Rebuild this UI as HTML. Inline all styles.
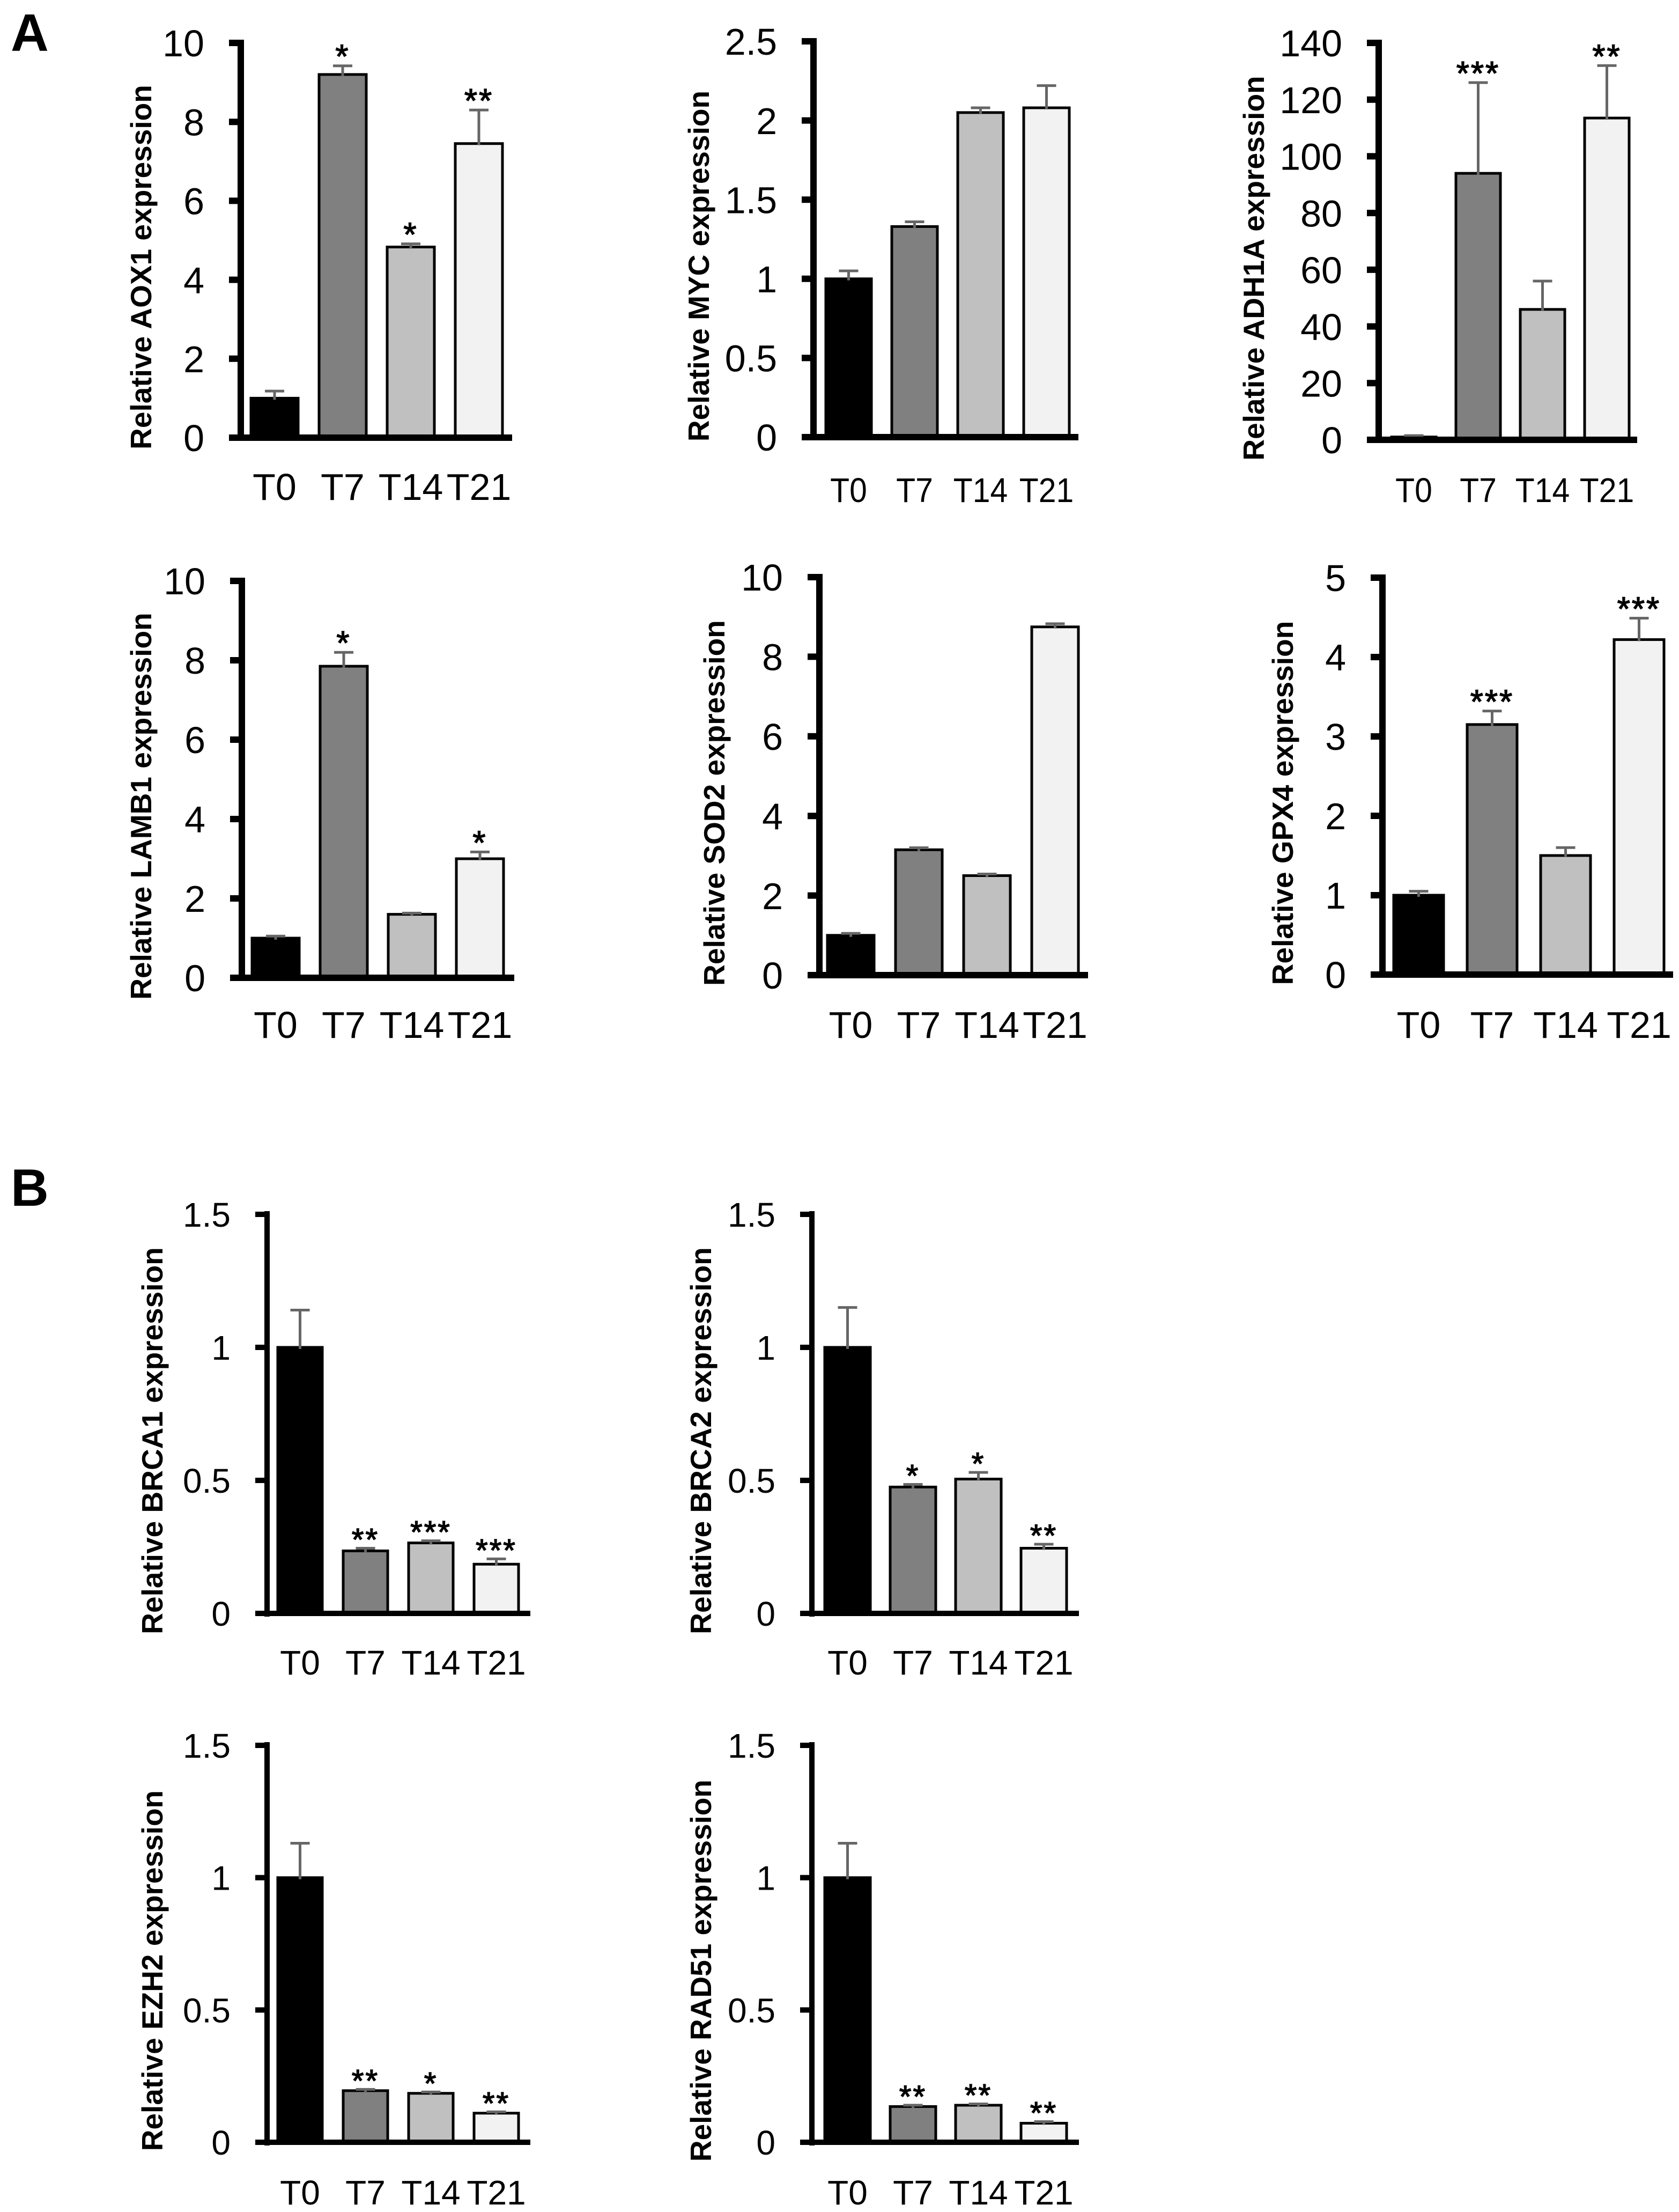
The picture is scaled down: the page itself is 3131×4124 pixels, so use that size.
<!DOCTYPE html>
<html><head><meta charset="utf-8"><style>
html,body{margin:0;padding:0;background:#fff;}
svg{display:block;}
</style></head>
<body>
<svg id="fig" width="3131" height="4124" viewBox="0 0 3131 4124" xmlns="http://www.w3.org/2000/svg">
<rect width="3131" height="4124" fill="#fff"/>
<text x="20" y="95" font-family="Liberation Sans, Arial, sans-serif" font-weight="bold" font-size="98">A</text>
<text x="20" y="2248" font-family="Liberation Sans, Arial, sans-serif" font-weight="bold" font-size="98">B</text>
</svg>
<script>
// ---- data ----
const categories = ["T0","T7","T14","T21"];
const barFills = ["#000000","#808080","#c0c0c0","#f2f2f2"];
const aox1Values = [1.0, 9.2, 4.83, 7.45];
const aox1Errors = [0.18, 0.22, 0.08, 0.85];
const aox1Stars = ["", "*", "*", "**"];
const mycValues = [1.0, 1.33, 2.05, 2.08];
const mycErrors = [0.05, 0.03, 0.03, 0.14];
const mycStars = ["", "", "", ""];
const adh1aValues = [1.0, 94, 46, 113.5];
const adh1aErrors = [0.5, 32, 10, 18.5];
const adh1aStars = ["", "***", "", "**"];
const lamb1Values = [1.0, 7.85, 1.6, 3.0];
const lamb1Errors = [0.05, 0.35, 0.03, 0.17];
const lamb1Stars = ["", "*", "", "*"];
const sod2Values = [1.0, 3.15, 2.5, 8.75];
const sod2Errors = [0.05, 0.05, 0.04, 0.08];
const sod2Stars = ["", "", "", ""];
const gpx4Values = [1.0, 3.15, 1.5, 4.22];
const gpx4Errors = [0.05, 0.17, 0.1, 0.27];
const gpx4Stars = ["", "***", "", "***"];
const brca1Values = [1.0, 0.235, 0.265, 0.185];
const brca1Errors = [0.14, 0.01, 0.008, 0.02];
const brca1Stars = ["", "**", "***", "***"];
const brca2Values = [1.0, 0.475, 0.505, 0.245];
const brca2Errors = [0.15, 0.01, 0.025, 0.015];
const brca2Stars = ["", "*", "*", "**"];
const ezh2Values = [1.0, 0.195, 0.185, 0.11];
const ezh2Errors = [0.13, 0.005, 0.005, 0.005];
const ezh2Stars = ["", "**", "*", "**"];
const rad51Values = [1.0, 0.135, 0.14, 0.072];
const rad51Errors = [0.13, 0.005, 0.005, 0.006];
const rad51Stars = ["", "**", "**", "**"];
const ticks10 = [0,2,4,6,8,10];
const ticks25 = [0,0.5,1,1.5,2,2.5];
const ticks140 = [0,20,40,60,80,100,120,140];
const ticks5 = [0,1,2,3,4,5];
const ticks15 = [0,0.5,1,1.5];

const NS = "http://www.w3.org/2000/svg";
const svg = document.getElementById("fig");
function mk(tag, attrs, parent){
  const e = document.createElementNS(NS, tag);
  for (const k in attrs) e.setAttribute(k, attrs[k]);
  (parent||svg).appendChild(e);
  return e;
}

function drawChart(c){
  const g = mk("g", {});
  
  
  const ymax = c.ticks[c.ticks.length-1];
  const y = v => c.base - (v/ymax)*(c.base - c.top);
  const x = i => c.first + i*c.step;
  const FN = "Liberation Sans, Arial, sans-serif";
  const sx = c.catScale || 1;
  c.values.forEach((v,i)=>{
    const r = mk("rect", {x:x(i), y:y(v), width:c.w, height:c.base - y(v), fill:barFills[i], stroke:"#000", "stroke-width":5}, g);
    
    
    const cx = x(i) + c.w/2;
    const et = y(v + c.errors[i]);
    const eb = mk("path", {d:`M${cx},${y(v)+3} V${et} M${cx-18},${et} H${cx+18}`, stroke:"#666", "stroke-width":5, fill:"none"}, g);
    
    
    if (c.stars[i]) {
      const s = mk("text", {x:cx, y:et + 4, "text-anchor":"middle", "font-family":FN, "font-size":c.starSize, "letter-spacing":"3", stroke:"#000", "stroke-width":"1.5"}, g);
      s.textContent = c.stars[i];
      
      
    }
    const l = mk("text", {x:0, y:0, transform:`translate(${cx},${c.labelY}) scale(${sx},1)`, "text-anchor":"middle", "font-family":FN, "font-size":c.catSize}, g);
    l.textContent = categories[i];
    
    
  });
  const ay = mk("line", {x1:c.axis, y1:c.top-6, x2:c.axis, y2:c.base+6, stroke:"#000", "stroke-width":c.aw}, g);
  
  
  const ax = mk("line", {x1:c.axis-22, y1:c.base, x2:c.end, y2:c.base, stroke:"#000", "stroke-width":c.aw}, g);
  
  
  c.ticks.forEach(t=>{
    const tk = mk("line", {x1:c.axis-22, y1:y(t), x2:c.axis, y2:y(t), stroke:"#000", "stroke-width":c.aw}, g);
    
    
    const tl = mk("text", {x:c.axis-68, y:y(t)+c.tickSize*0.36, "text-anchor":"end", "font-family":FN, "font-size":c.tickSize}, g);
    tl.textContent = String(t);
    
    
  });
  const cy = (c.top + c.base)/2 + 50;
  const tt = mk("text", {x:0, y:0, transform:`translate(${c.titleX + 20},${cy}) rotate(-90)`, "text-anchor":"middle", "font-family":FN, "font-weight":"bold", "font-size":55}, g);
  tt.textContent = c.title;
  
  
}

const A = {aw:12, tickSize:70, catSize:70, starSize:62};
const B = {aw:10, tickSize:64, catSize:64, starSize:58};
drawChart(Object.assign({}, A, {name:"aox1", title:"Relative AOX1 expression", values:aox1Values, errors:aox1Errors, stars:aox1Stars, ticks:ticks10,
  axis:449, top:80, base:816, end:955, first:468, step:127, w:88, titleX:262, labelY:932}));
drawChart(Object.assign({}, A, {name:"myc", title:"Relative MYC expression", values:mycValues, errors:mycErrors, stars:mycStars, ticks:ticks25,
  axis:1517, top:77, base:815, end:2011, first:1540, step:123, w:85, titleX:1302, labelY:936, catSize:64, catScale:0.92}));
drawChart(Object.assign({}, A, {name:"adh1a", title:"Relative ADH1A expression", values:adh1aValues, errors:adh1aErrors, stars:adh1aStars, ticks:ticks140,
  axis:2571, top:80, base:820, end:3053, first:2595, step:120, w:83, titleX:2337, labelY:936, catSize:64, catScale:0.92}));
drawChart(Object.assign({}, A, {name:"lamb1", title:"Relative LAMB1 expression", values:lamb1Values, errors:lamb1Errors, stars:lamb1Stars, ticks:ticks10,
  axis:451, top:1083, base:1823, end:959, first:470, step:127, w:88, titleX:262, labelY:1935}));
drawChart(Object.assign({}, A, {name:"sod2", title:"Relative SOD2 expression", values:sod2Values, errors:sod2Errors, stars:sod2Stars, ticks:ticks10,
  axis:1528, top:1076, base:1818, end:2029, first:1543, step:127, w:87, titleX:1331, labelY:1935}));
drawChart(Object.assign({}, A, {name:"gpx4", title:"Relative GPX4 expression", values:gpx4Values, errors:gpx4Errors, stars:gpx4Stars, ticks:ticks5,
  axis:2578, top:1077, base:1817, end:3120, first:2599, step:137, w:93, titleX:2391, labelY:1935}));
drawChart(Object.assign({}, B, {name:"brca1", title:"Relative BRCA1 expression", values:brca1Values, errors:brca1Errors, stars:brca1Stars, ticks:ticks15,
  axis:498, top:2264, base:3008, end:989, first:518, step:122, w:83, titleX:283, labelY:3122}));
drawChart(Object.assign({}, B, {name:"brca2", title:"Relative BRCA2 expression", values:brca2Values, errors:brca2Errors, stars:brca2Stars, ticks:ticks15,
  axis:1514, top:2264, base:3008, end:2012, first:1538, step:122, w:85, titleX:1306, labelY:3122}));
drawChart(Object.assign({}, B, {name:"ezh2", title:"Relative EZH2 expression", values:ezh2Values, errors:ezh2Errors, stars:ezh2Stars, ticks:ticks15,
  axis:498, top:3254, base:3994, end:989, first:518, step:122, w:83, titleX:283, labelY:4110}));
drawChart(Object.assign({}, B, {name:"rad51", title:"Relative RAD51 expression", values:rad51Values, errors:rad51Errors, stars:rad51Stars, ticks:ticks15,
  axis:1514, top:3254, base:3994, end:2012, first:1538, step:122, w:85, titleX:1306, labelY:4110}));
</script>
</body></html>
